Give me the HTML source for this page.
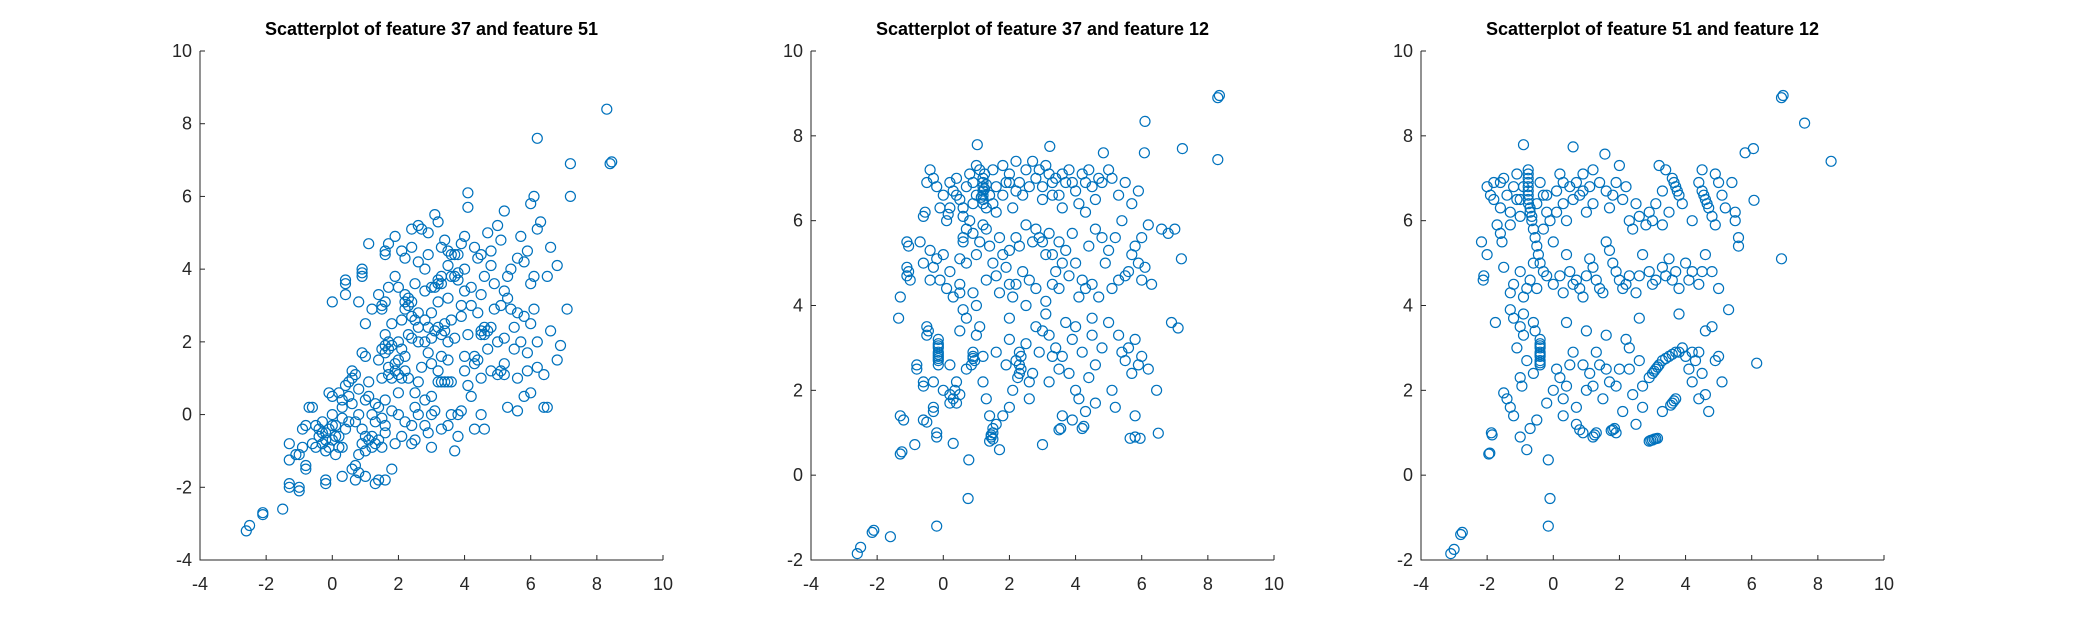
<!DOCTYPE html>
<html><head><meta charset="utf-8"><style>
html,body{margin:0;padding:0;background:#fff;}
svg{display:block;font-family:"Liberation Sans",Arial,sans-serif;}
</style></head><body>
<svg id="fig" width="2084" height="630" viewBox="0 0 2084 630" xmlns="http://www.w3.org/2000/svg">
<rect width="2084" height="630" fill="#fff"/>
</svg>
<script>
const xTicks = [-4,-2,0,2,4,6,8,10];
const yTicks1 = [-4,-2,0,2,4,6,8,10];
const yTicks23 = [-2,0,2,4,6,8,10];
const titles = ["Scatterplot of feature 37 and feature 51","Scatterplot of feature 37 and feature 12","Scatterplot of feature 51 and feature 12"];

const p1Points = [[-2.6,-3.2],[-2.5,-3.05],[-2.1,-2.7],[-2.1,-2.75],[-1.5,-2.6],[-1.3,-2.0],[-1.3,-1.9],[-1.0,-2.1],[-1.0,-2.0],[-1.3,-1.25],[-1.1,-1.1],[-1.0,-1.1],[-1.3,-0.8],[-0.9,-0.9],[-0.8,-1.4],[-0.8,-1.5],
[-0.5,-0.3],[-0.4,-0.6],[-0.3,-0.8],[-0.2,-0.5],[-0.1,-0.4],[0,-0.7],[0.1,-0.3],[0.2,-0.6],[-0.3,-0.2],[0,0],[0.3,-0.9],[-0.2,-1.0],[0.1,-1.1],[-0.6,-0.8],[-0.7,0.2],[-0.6,0.2],[-0.8,-0.3],[0.3,0.2],[0.5,0.9],[0.6,1.0],[0.7,1.1],[0.4,0.8],[0.2,0.6],[0,0.5],[-0.1,0.6],[-0.2,-1.8],[-0.2,-1.9],[0.3,-1.7],[0.6,-1.5],[0.7,-1.4],[0.8,-1.6],[0.7,-1.8],[1.0,-1.7],[1.4,-1.8],[1.6,-1.8],[1.3,-1.9],[1.8,-1.5],[1.0,-1.0],[0.8,-1.1],[1.2,-0.6],[1.1,-0.7],[1.3,-0.8],[1.5,-0.9],[1.6,-0.5],[1.3,-0.2],[1.5,-0.1],[1.2,0],[1.0,0.4],[1.1,0.5],[1.3,0.3],[0.8,0],[0.9,-0.4],[1.9,-0.8],[2.1,-0.6],[2.4,-0.8],[2.5,-0.7],[2.2,-0.2],[2.0,0],[2.6,0],[2.8,-0.3],[2.9,-0.5],[3.0,-0.9],[3.3,-0.4],[3.5,-0.3],[3.8,-0.6],[3.7,-1.0],[3.8,0],[3.6,0],[4.3,-0.4],[4.6,-0.4],[4.5,0],[3.9,0.1],
[1.5,1.0],[1.7,1.1],[1.8,1.0],[2.0,1.1],[2.2,1.2],[2.3,1.0],[1.9,1.4],[2.5,0.6],[2.6,0.9],[2.8,0.4],[3.0,0.5],[3.2,0.9],[3.4,0.9],[3.6,0.9],[2.7,1.3],[3.0,1.4],[3.3,1.6],[3.5,1.5],[4.0,1.2],[4.2,0.5],[4.5,1.0],[4.8,1.2],[5.0,1.1],[5.2,1.4],[5.3,0.2],[5.6,0.1],[5.8,0.5],[6.0,0.6],[6.4,0.2],[6.5,0.2],[5.6,1.0],[5.9,1.2],[6.2,1.3],[6.4,1.1],[6.8,1.5],[6.9,1.9],[6.6,2.3],
[1.0,1.6],[0.9,1.7],[1.0,2.5],[1.5,1.8],[1.6,1.9],[1.7,2.0],[1.6,2.2],[1.4,1.5],[2.0,2.0],[2.1,1.8],[2.3,2.2],[2.5,2.6],[2.6,2.4],[2.8,2.0],[3.0,2.1],[3.2,2.4],[3.4,2.3],[3.6,2.6],[3.7,2.1],[3.5,2.0],[3.9,2.7],[4.1,2.2],[4.3,1.6],[4.5,2.2],[4.6,2.4],[4.8,2.4],[4.7,1.8],[5.0,2.0],[5.2,2.1],[5.5,2.4],[5.6,2.8],[5.8,2.7],[6.0,2.5],[6.1,2.9],[5.4,2.9],[5.1,3.0],[4.9,2.9],
[0.0,3.1],[0.4,3.3],[0.4,3.6],[0.9,3.8],[0.9,4.0],[0.9,3.9],[0.4,3.7],[0.8,3.1],[1.5,2.9],[1.5,3.0],[1.6,3.1],[1.7,3.5],[2.0,3.5],[2.2,3.1],[2.3,3.2],[2.6,2.8],[2.5,3.6],[2.8,3.4],[3.0,3.5],[3.2,3.6],[3.3,3.8],[3.8,3.7],[3.7,3.8],[4.0,3.4],[4.2,3.5],[4.5,3.3],[5.2,3.4],[6.0,3.6],[6.1,3.8],[6.5,3.8],[7.1,2.9],[6.8,4.1],
[1.1,4.7],[1.6,4.5],[1.7,4.7],[1.6,4.4],[1.9,4.9],[2.1,4.5],[2.2,4.3],[2.4,4.6],[2.4,5.1],[2.6,5.2],[2.7,5.1],[2.9,4.4],[3.1,5.5],[3.2,5.3],[3.4,4.8],[3.6,4.4],[3.8,4.4],[3.9,4.7],[4.0,4.9],[4.1,6.1],[4.1,5.7],[4.3,4.6],[4.5,4.4],[4.8,4.5],[4.7,5.0],[5.0,5.2],[5.2,5.6],[5.1,4.8],[5.4,4.0],[5.6,4.3],[5.8,4.2],[5.9,4.5],[6.0,5.8],[6.1,6.0],[6.2,5.1],[6.3,5.3],[6.6,4.6],[6.2,7.6],[7.2,6.9],[7.2,6.0],[8.3,8.4],[8.4,6.9],[8.45,6.95],[3.0,0.0],[3.2,1.2],[2.9,1.7],[4.2,3.0],[5.3,3.2],[4.4,2.8],[3.9,3.0],[2.4,2.7],[1.8,2.5],[2.1,2.6],[3.2,3.1],[3.5,3.2],[2.0,0.6],[1.6,0.4],[0.5,-0.2],[0.6,0.3],[4.0,4.0],[5.7,4.9],[3.5,4.1],[4.6,3.8],
[-0.4,-0.4],[-0.2,-0.7],[0,-0.3],[0.2,-0.9],[-0.1,-0.9],[0.1,-0.6],[-0.3,-0.5],[0.4,-0.4],[-0.5,-0.9],[0.3,-0.1],[0.9,-0.8],[1.0,-0.6],[1.2,-0.9],[1.4,-0.7],[0.7,-0.2],[0.5,0.5],[0.8,0.7],[1.1,0.9],[1.7,1.3],[1.9,1.2],[2.1,1.0],[1.8,1.9],[1.7,1.8],[1.6,1.7],[2.2,2.9],[2.3,3.0],[2.4,3.1],[2.2,3.3],[3.1,3.5],[3.2,3.7],[3.3,3.6],[3.6,3.8],[3.8,3.9],[3.7,4.4],[3.5,4.5],[2.9,2.4],[3.1,2.3],[3.3,2.2],[3.4,2.5],[4.5,2.3],[4.6,2.2],[4.7,2.3],[4.3,1.4],[4.4,1.5],[5.1,1.2],[5.2,1.1],[3.3,0.9],[3.5,0.9],[2.6,2.0],[2.4,2.1],[2.8,2.6],[3.0,2.8],[2.0,1.5],[2.2,1.6],[1.4,0.2],[1.6,-0.3],[1.8,0.1],[2.4,-0.3],[2.5,0.2],[3.1,0.1],[4.1,0.8],[4.0,1.6],[5.5,1.8],[5.7,2.0],[5.9,1.7],[6.2,2.0],[4.9,3.6],[5.3,3.8],[4.8,4.1],[4.4,4.3],[2.8,4.0],[2.6,4.2],[1.9,3.8],[2.9,5.0],[3.3,4.6],[1.2,2.9],[1.4,3.3],[0.6,1.2],[0.3,0.4],[-0.9,-0.4]];

const p2Points = [[-0.4,7.2],[-0.3,7.0],[-0.5,6.9],[-0.2,6.8],[-0.6,6.1],[-0.55,6.2],[0,6.6],[0.2,6.9],[0.3,6.7],[0.4,7.0],[0.5,6.5],[0.6,6.3],[0.7,6.8],[0.8,7.1],[0.9,6.9],[1.0,7.3],[1.1,7.2],[1.2,7.0],[1.2,6.9],[1.2,6.8],[1.2,6.7],[1.2,6.6],[1.2,6.5],[1.2,6.4],[1.3,6.3],[1.4,6.6],[1.5,6.4],[1.6,6.2],[1.5,7.2],[1.8,7.3],[1.9,6.9],[2.0,7.1],[2.2,7.4],[2.3,6.9],[2.4,6.6],[2.5,7.2],[2.7,7.4],[2.8,7.0],[3.0,6.8],[3.1,7.3],[3.2,7.1],[3.3,6.9],[3.4,7.0],[3.5,6.6],[3.7,6.9],[3.8,7.2],[4.0,6.7],[4.1,6.4],[4.2,7.1],[4.4,7.2],[4.5,6.8],[4.6,6.5],[4.8,6.9],[5.0,7.2],[5.1,7.0],[5.3,6.6],[5.5,6.9],[5.7,6.4],[5.9,6.7],[4.3,6.2],[3.6,6.3],[2.1,6.3],[0.8,6.0],[0.7,5.8],[0.6,5.6],[0.1,6.0],[0.15,6.15],
[-1.1,5.5],[-1.05,5.4],[-0.7,5.5],[-1.1,4.9],[-1.05,4.8],[-1.1,4.7],[-1.0,4.6],[-1.3,4.2],[-1.35,3.7],[-0.4,5.3],[-0.3,4.9],[-0.2,5.1],[-0.1,4.6],[0.0,5.2],[0.1,4.4],[0.2,4.8],[0.3,4.2],[0.5,4.5],[0.5,4.3],[0.6,5.5],[0.7,5.0],[0.9,5.7],[1.0,5.2],[1.1,5.5],[1.3,5.8],[1.4,5.4],[1.5,5.0],[1.6,4.7],[1.8,5.2],[1.9,4.9],[2.0,4.5],[2.1,4.2],[2.2,5.6],[2.3,5.4],[2.4,4.8],[2.6,4.6],[2.7,5.5],[2.8,5.8],[3.0,5.5],[3.2,5.7],[3.3,5.2],[3.4,4.8],[3.5,4.4],[3.6,5.0],[3.7,5.3],[3.9,5.7],[4.0,5.0],[4.2,4.6],[4.3,4.4],[4.5,4.5],[4.7,4.2],[4.8,5.6],[5.0,5.3],[5.1,4.4],[5.3,4.6],[5.5,4.7],[5.6,4.8],[5.8,5.4],[5.9,5.0],[6.0,5.6],[6.1,4.9],[6.3,4.5],[6.2,5.9],[6.6,5.8],[6.8,5.7],[7.0,5.8],[7.2,5.1],[5.4,6.0],[4.6,5.8],[3.1,4.1],[2.5,4.0],[1.7,4.3],
[-0.5,3.5],[-0.5,3.3],[-0.45,3.4],[-0.15,3.2],[-0.15,3.1],[-0.15,3.0],[-0.15,2.9],[-0.15,2.8],[-0.15,2.7],[-0.15,2.6],[-0.8,2.6],[-0.8,2.5],[-0.6,2.2],[-0.6,2.1],[-0.3,1.6],[-0.3,1.5],[-0.2,1.0],[-0.2,0.9],[-1.3,0.5],[-1.25,0.55],[-0.86,0.72],[-0.6,1.3],[-0.5,1.25],[0.3,0.75],[0.77,0.36],[0.0,2.0],[0.2,1.9],[0.3,1.8],[0.4,1.7],[0.4,2.2],[0.5,1.9],[0.7,2.5],[0.9,2.9],[0.9,2.8],[0.95,2.7],[0.85,2.6],[0.5,3.4],[0.6,3.9],[0.7,3.7],[1.0,3.3],[1.1,3.5],[1.2,2.2],[1.3,1.8],[1.4,1.4],[1.5,1.1],[1.5,1.0],[1.45,0.9],[1.4,0.8],[1.6,1.2],[1.7,0.6],[1.8,1.4],[2.0,1.6],[2.1,2.0],[2.2,2.7],[2.3,2.9],[2.3,2.6],[2.3,2.4],[2.25,2.3],[2.5,3.1],[2.6,1.8],[2.7,2.4],[2.8,3.5],[3.0,3.4],[3.1,3.8],[3.2,2.2],[3.3,2.8],[3.4,3.0],[3.5,2.5],[3.6,1.4],[3.5,1.07],[3.55,1.1],[3.0,0.72],[3.7,3.6],[3.9,3.2],[4.0,2.0],[4.1,1.8],[4.2,1.1],[4.25,1.15],[4.3,1.5],[4.4,2.3],[4.6,2.6],[4.8,3.0],[5.0,3.6],[5.1,2.0],[5.3,3.3],[5.5,2.7],[5.6,3.0],[5.7,2.4],[5.8,1.4],[5.65,0.87],[5.8,0.9],[5.95,0.87],[6.0,2.8],[6.2,2.5],[6.5,0.99],[6.45,2.0],[6.9,3.6],[7.1,3.47],[4.5,3.7],[2.0,3.7],[1.0,4.0],[-1.3,1.4],[-1.2,1.3],
[0.75,-0.55],[-0.2,-1.2],[-1.6,-1.45],[-2.1,-1.3],[-2.15,-1.35],[-2.5,-1.7],[-2.6,-1.85],[1.03,7.79],[3.22,7.75],[4.84,7.6],[6.08,7.6],[6.1,8.34],[7.23,7.7],[8.3,7.44],[8.3,8.9],[8.35,8.95],
[1.25,7.1],[1.25,6.75],[1.15,6.55],[1.3,6.85],[1.0,6.6],[0.9,6.4],[1.6,6.8],[1.8,6.6],[2.0,6.9],[2.6,6.8],[2.9,7.2],[3.0,6.5],[3.3,6.6],[3.6,7.1],[3.9,6.9],[4.3,6.9],[4.7,7.0],[2.2,6.7],[0.4,6.6],[0.6,6.1],[-0.1,6.3],[0.2,6.3],[2.5,5.9],[2.9,5.6],[3.1,5.2],[3.5,5.5],[2.0,5.3],[1.7,5.6],[1.2,5.9],[0.5,5.1],[4.4,5.4],[4.9,5.0],[5.2,5.6],[5.7,5.2],[6.0,4.6],[4.1,4.2],[3.8,4.7],[3.3,4.5],[2.8,4.4],[2.2,4.5],[1.3,4.6],[0.9,4.3],[-0.6,5.0],[-0.4,4.6],[-0.15,3.05],[-0.15,2.85],[-0.15,2.75],[0.9,2.75],[0.2,1.7],[0.35,2.0],[1.45,0.95],[1.5,0.85],[2.35,2.8],[2.35,2.5],[2.6,2.2],[2.9,2.9],[3.2,3.3],[3.6,2.8],[4.2,2.9],[4.5,3.3],[4.0,3.5],[5.4,2.9],[5.8,3.2],[5.9,2.6],[3.8,2.4],[1.9,2.6],[1.6,2.9],[2.0,3.2],[1.2,2.8],[0.2,2.6],[-0.3,2.2],[3.9,1.3],[4.6,1.7],[5.2,1.6]];

const p3Points = [[-0.76,7.2],[-0.76,7.0],[-0.76,6.8],[-0.76,6.6],[-0.75,6.4],[-0.7,6.2],[-0.65,6.0],[-0.6,5.8],[-0.55,5.6],[-0.5,5.4],[-0.45,5.2],
[-2.0,6.8],[-1.9,6.6],[-1.8,6.5],[-1.6,6.9],[-1.5,7.0],[-1.4,6.6],[-1.2,6.8],[-1.1,7.1],[-1.0,6.5],[-1.7,5.9],[-1.6,5.7],[-1.55,5.5],[-1.3,5.9],[-1.0,6.1],[-0.9,7.79],[-0.4,6.9],[-0.3,6.6],[-0.2,6.2],[-0.1,6.0],[-0.3,5.8],[0,5.5],[0.1,6.7],[0.2,7.1],[0.3,6.4],[0.4,6.0],[0.5,6.8],[0.6,7.74],[0.7,6.9],[0.8,6.6],[0.9,7.1],[1.0,6.2],[1.1,6.8],[1.2,7.2],[1.56,7.57],[1.6,6.7],[1.7,6.3],[1.9,6.9],[2.0,7.3],[2.1,6.5],[2.3,6.0],[2.4,5.8],[2.6,6.1],[2.8,5.9],[3.0,6.0],[3.1,6.4],[3.3,5.9],[3.2,7.3],[3.4,7.2],[3.6,7.0],[3.7,6.8],[3.8,6.6],[3.9,6.4],[3.5,6.2],[4.2,6.0],[4.4,6.9],[4.5,6.7],[4.6,6.5],[4.7,6.3],[4.8,6.1],[4.9,5.9],[4.5,7.2],[4.9,7.1],[5.1,6.6],[5.2,6.3],[5.4,6.9],[5.5,6.2],[5.6,5.6],[5.6,5.4],[5.5,6.0],[5.8,7.6],[6.05,7.7],[6.07,6.48],[-2.17,5.5],[-2.12,4.6],[-2.1,4.7],[-2.0,5.2],
[-1.5,4.9],[-1.3,4.3],[-1.2,4.5],[-1.0,4.8],[-0.9,4.2],[-0.7,4.6],[-0.5,4.4],[-0.4,5.0],[-0.2,4.7],[0,4.5],[0.3,4.3],[0.4,5.2],[0.5,4.8],[0.7,4.6],[0.8,4.4],[0.9,4.2],[1.1,5.1],[1.2,4.9],[1.4,4.4],[1.6,5.5],[1.7,5.3],[1.9,4.8],[2.0,4.6],[2.1,4.4],[2.3,4.7],[2.5,4.3],[2.7,5.2],[2.9,4.8],[3.1,4.6],[3.3,4.9],[3.5,5.1],[3.6,4.6],[3.8,4.4],[4.0,5.0],[4.2,4.8],[4.4,4.5],[4.6,5.2],[4.8,4.8],[5.0,4.4],[5.3,3.9],[-1.3,3.9],[-1.2,3.7],[-1.0,3.5],[-0.9,3.8],[-1.75,3.6],
[-0.4,3.2],[-0.4,3.1],[-0.4,3.0],[-0.4,2.9],[-0.4,2.8],[-0.4,2.7],[-0.4,2.6],[-0.6,3.6],[-0.55,3.4],[-0.8,2.7],[-1.0,2.3],[-0.95,2.1],[-1.5,1.94],[-1.87,1.0],[-1.85,0.95],[-1.92,0.52],[-1.95,0.5],[-1.3,1.6],[-1.2,1.4],[-1.0,0.9],[-0.7,1.1],[-0.8,0.6],[-0.5,1.3],[-0.15,0.36],[-0.1,-0.55],[0,2.0],[0.2,2.3],[0.3,1.8],[0.5,2.6],[0.6,2.9],[0.7,1.6],[0.8,1.07],[0.9,1.0],[1.0,2.0],[1.1,2.4],[1.2,0.9],[1.25,0.95],[1.3,2.9],[1.4,2.6],[1.5,1.8],[1.6,3.3],[1.7,2.2],[1.8,1.07],[1.85,1.1],[1.9,1.0],[2.0,2.5],[2.1,1.5],[2.2,3.2],[2.3,3.0],[2.4,1.9],[2.5,1.2],[2.6,2.7],[2.7,1.6],[2.9,2.3],[3.0,2.4],[3.1,2.5],[3.2,2.6],[3.0,0.83],[2.9,0.8],[3.05,0.85],[3.15,0.87],[3.3,1.5],[3.5,2.8],[3.6,1.7],[3.65,1.75],[3.7,2.9],[3.9,3.0],[4.0,2.8],[4.1,2.5],[4.4,2.9],[4.5,2.4],[4.6,3.4],[4.8,3.5],[4.9,2.7],[5.0,2.8],[5.1,2.2],[4.6,1.9],[4.7,1.5],[3.8,3.8],[2.6,3.7],[1.0,3.4],[0.4,3.6],[6.15,2.64],[6.9,5.1],
[-3.1,-1.85],[-3.0,-1.75],[-2.8,-1.4],[-2.75,-1.35],[-0.15,-1.2],[6.9,8.9],[6.95,8.95],[7.6,8.3],[8.4,7.4],
[-0.76,7.1],[-0.76,6.9],[-0.76,6.7],[-0.76,6.5],[-0.7,6.3],[-0.65,6.1],[-1.8,6.9],[-1.6,6.3],[-1.3,6.2],[-1.1,6.5],[-0.9,6.8],[-0.5,6.4],[-0.2,6.6],[0.1,6.2],[0.3,6.9],[0.6,6.5],[0.9,6.7],[1.2,6.4],[1.4,6.9],[1.8,6.6],[2.2,6.8],[2.5,6.4],[2.9,6.2],[3.3,6.7],[3.65,6.9],[3.75,6.7],[4.55,6.6],[4.65,6.4],[5.0,6.9],[-0.3,4.8],[-0.6,5.0],[-0.8,4.4],[0.2,4.7],[0.6,4.5],[1.0,4.7],[1.3,4.6],[1.5,4.3],[1.8,5.0],[2.2,4.5],[2.6,4.7],[3.0,4.5],[3.4,4.7],[3.7,4.8],[4.1,4.6],[4.5,4.8],[-0.4,3.05],[-0.4,2.85],[-0.4,2.65],[-0.9,3.3],[-1.1,3.0],[-0.6,2.4],[0.1,2.5],[0.4,2.1],[0.9,2.6],[1.2,2.1],[1.6,2.5],[1.9,2.1],[2.3,2.5],[2.7,2.1],[3.05,2.45],[3.15,2.55],[3.3,2.7],[3.4,2.75],[3.6,2.85],[3.8,2.9],[4.2,2.9],[4.3,2.7],[3.55,1.65],[3.7,1.8],[1.3,1.0],[1.75,1.05],[2.95,0.82],[3.1,0.86],[0.7,1.2],[0.3,1.4],[-0.2,1.7],[-1.4,1.8],[4.2,2.2],[4.4,1.8]];

const NS = "http://www.w3.org/2000/svg";
const svg = document.getElementById('fig');
const panels = [
  {left:200, ymin:-4, ymax:10, yTicks:yTicks1, pts:p1Points, title:titles[0]},
  {left:811, ymin:-2, ymax:10, yTicks:yTicks23, pts:p2Points, title:titles[1]},
  {left:1421, ymin:-2, ymax:10, yTicks:yTicks23, pts:p3Points, title:titles[2]}
];
const W = 463, TOP = 51, BOT = 560, XMIN = -4, XMAX = 10;
function mk(tag, attrs){ const e = document.createElementNS(NS, tag); for (const k in attrs) e.setAttribute(k, attrs[k]); return e; }

panels.forEach(function(p, i){
  const sx = v => p.left + (v - XMIN) / (XMAX - XMIN) * W;
  const sy = v => BOT - (v - p.ymin) / (p.ymax - p.ymin) * (BOT - TOP);
  const g = mk('g', {});
  
  
  svg.appendChild(g);

  const t = mk('text', {x: p.left + W/2, y: 35, 'text-anchor':'middle', 'font-size':'18', 'font-weight':'bold', fill:'#000'});
  
  
  t.textContent = p.title;
  g.appendChild(t);

  const pg = mk('g', {fill:'none', stroke:'#0072BD', 'stroke-width':'1.2'});
  
  
  g.appendChild(pg);
  p.pts.forEach(function(d){
    const c = mk('circle', {cx: sx(d[0]).toFixed(1), cy: sy(d[1]).toFixed(1), r: 5});
    
    
    pg.appendChild(c);
  });

  const ax = mk('path', {d:'M'+p.left+','+TOP+'V'+BOT+'H'+(p.left+W), fill:'none', stroke:'#262626', 'stroke-width':'1'});
  
  
  g.appendChild(ax);

  xTicks.forEach(function(v){
    const x = sx(v);
    const tk = mk('line', {x1:x, x2:x, y1:BOT, y2:BOT-5, stroke:'#262626', 'stroke-width':'1'});
    
    
    g.appendChild(tk);
    const lb = mk('text', {x:x, y:BOT+30, 'text-anchor':'middle', 'font-size':'18', fill:'#262626'});
    
    
    lb.textContent = v;
    g.appendChild(lb);
  });
  p.yTicks.forEach(function(v){
    const y = sy(v);
    const tk = mk('line', {x1:p.left, x2:p.left+5, y1:y, y2:y, stroke:'#262626', 'stroke-width':'1'});
    
    
    g.appendChild(tk);
    const lb = mk('text', {x:p.left-8, y:y+6, 'text-anchor':'end', 'font-size':'18', fill:'#262626'});
    
    
    lb.textContent = v;
    g.appendChild(lb);
  });
});
</script>
</body></html>
